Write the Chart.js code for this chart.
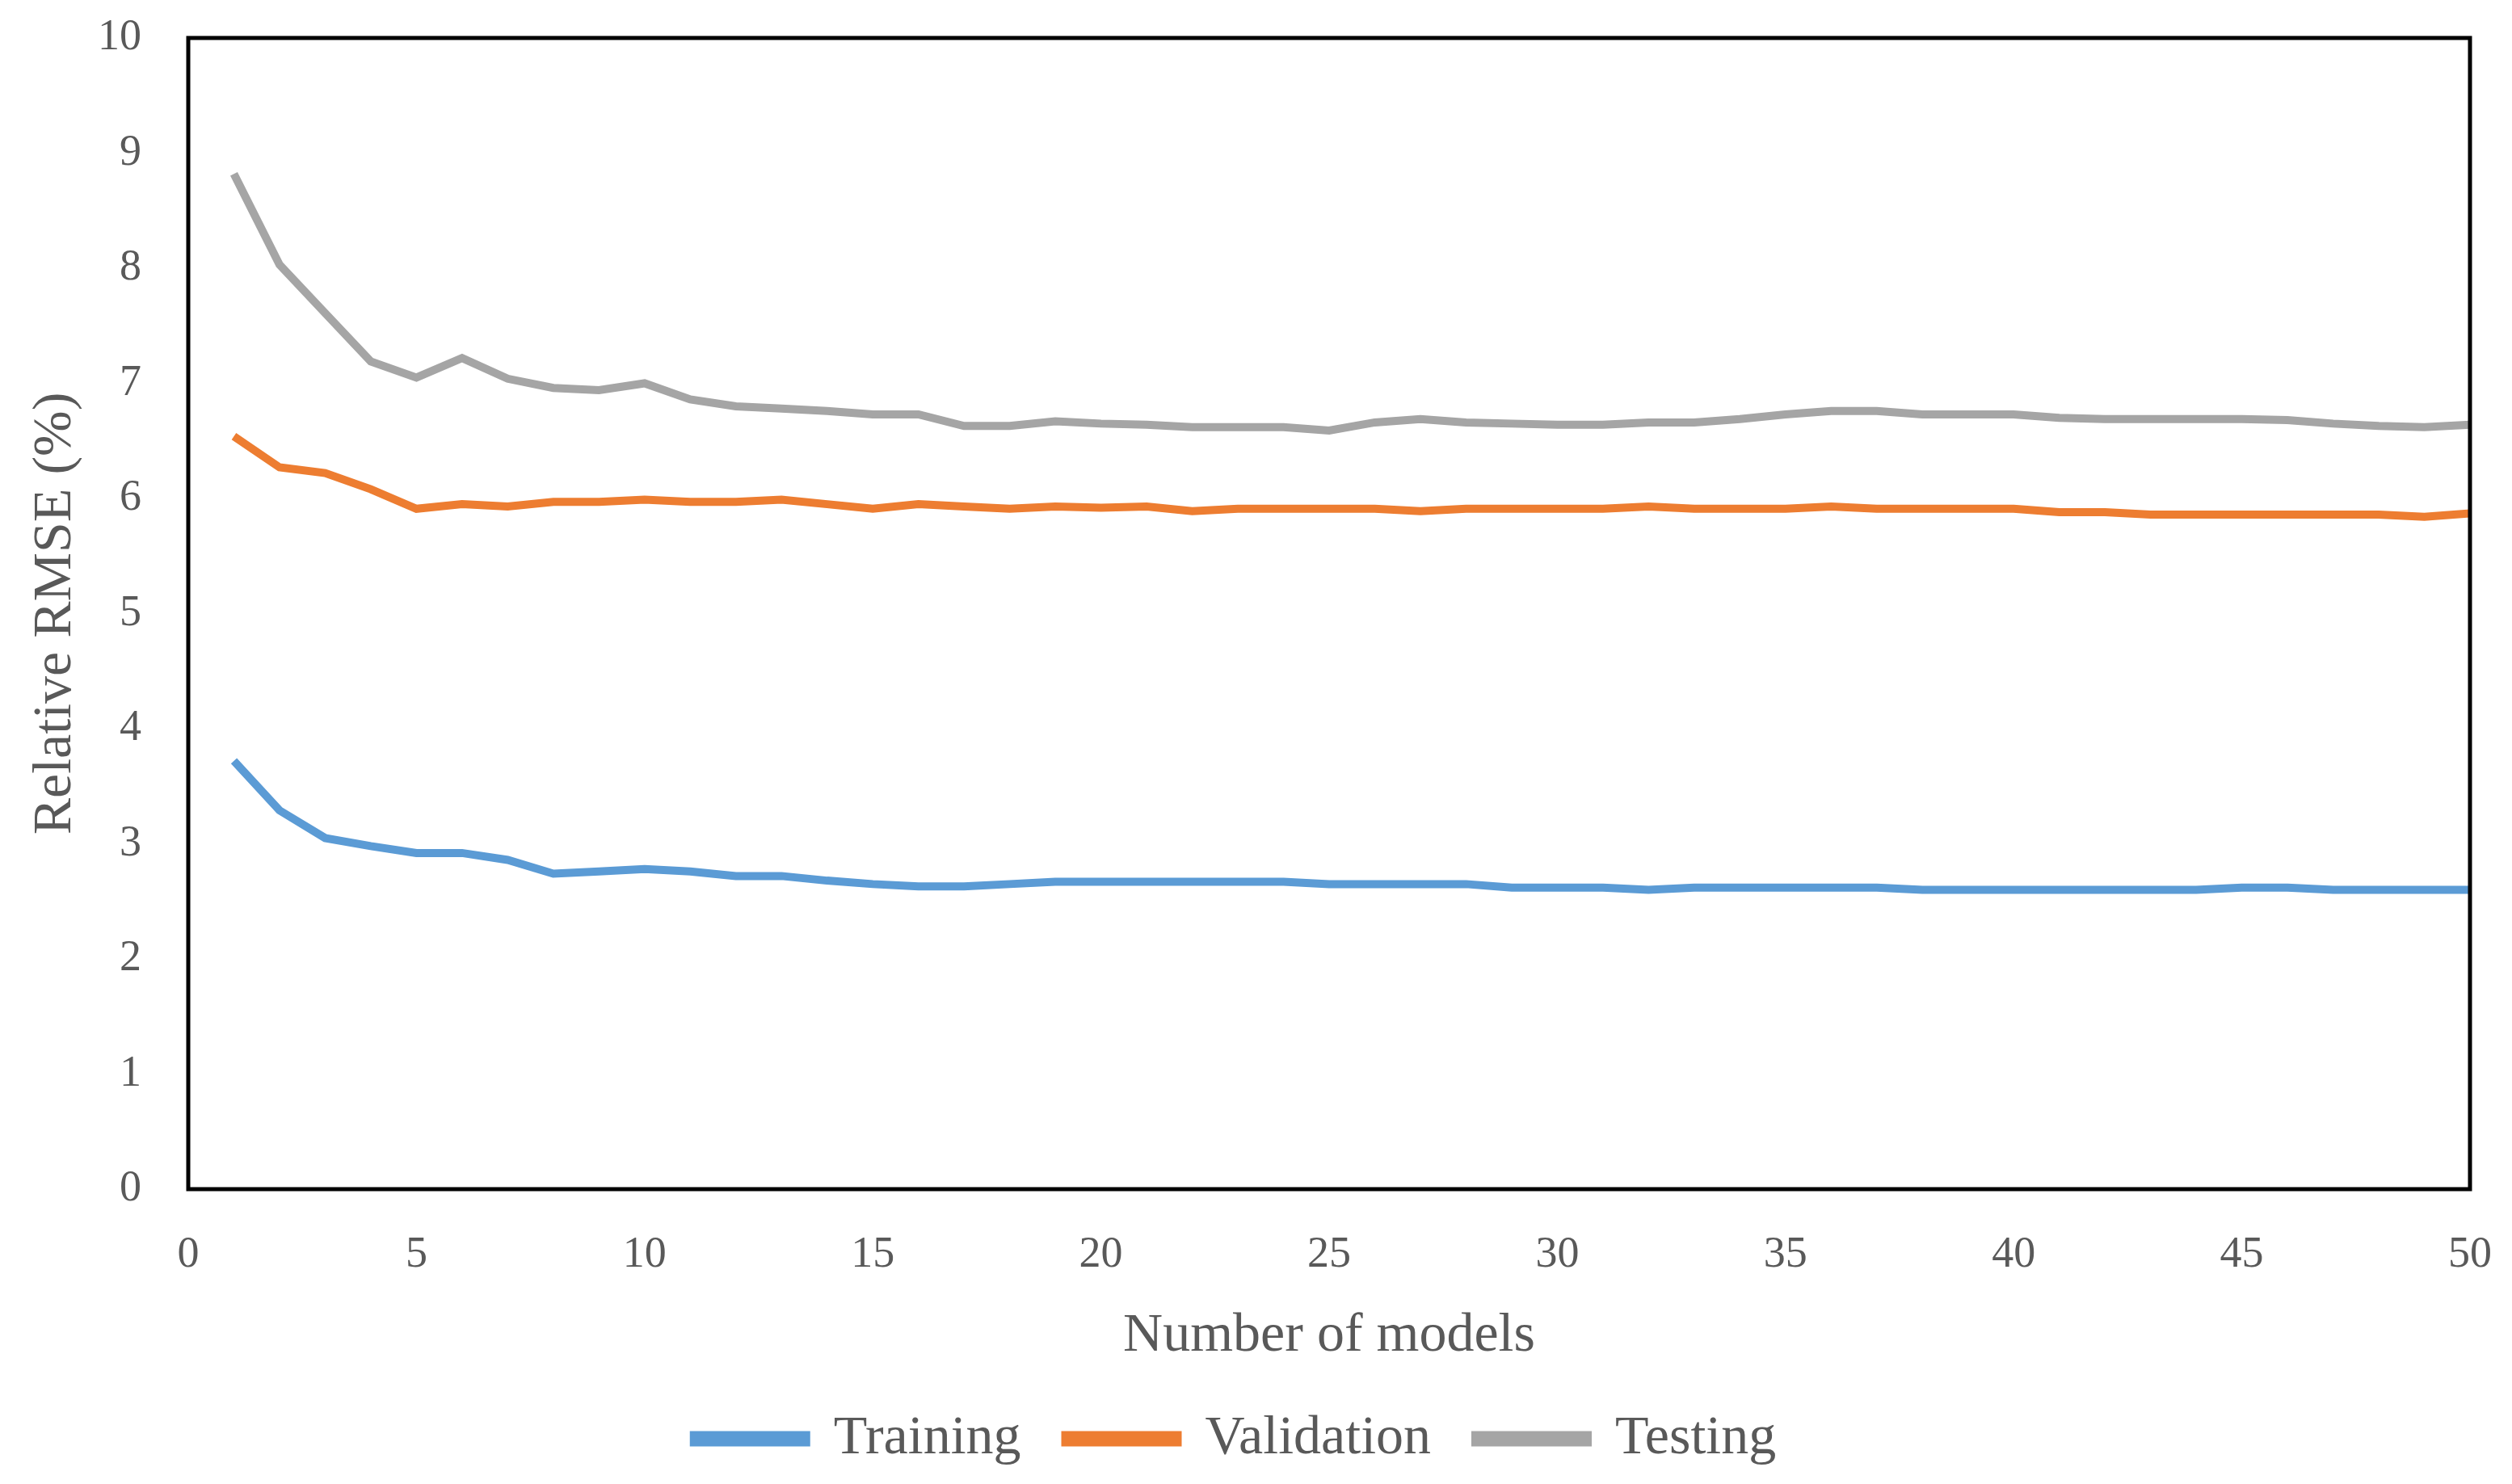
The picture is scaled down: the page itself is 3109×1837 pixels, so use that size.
<!DOCTYPE html>
<html>
<head>
<meta charset="utf-8">
<title>Relative RMSE</title>
<script src="https://cdn.jsdelivr.net/npm/chart.js@4/dist/chart.umd.min.js"></script>
<style>
  body { margin: 0; background: #ffffff; }
  #caixa { width: 3109px; height: 1837px; }
  canvas { display: block; }
</style>
</head>
<body>
<div id="caixa"><canvas id="myChart" width="3109" height="1837"></canvas></div>
<script>
// numero de modelos (eixo x)
var modelos = [1, 2, 3, 4, 5, 6, 7, 8, 9, 10, 11, 12, 13, 14, 15, 16, 17, 18, 19, 20,
  21, 22, 23, 24, 25, 26, 27, 28, 29, 30, 31, 32, 33, 34, 35, 36, 37, 38, 39, 40,
  41, 42, 43, 44, 45, 46, 47, 48, 49, 50]

var training = [3.72, 3.29, 3.05, 2.98, 2.92, 2.92, 2.86, 2.74, 2.76, 2.78,
  2.76, 2.72, 2.72, 2.68, 2.65, 2.63, 2.63, 2.65, 2.67, 2.67,
  2.67, 2.67, 2.67, 2.67, 2.65, 2.65, 2.65, 2.65, 2.62, 2.62,
  2.62, 2.60, 2.62, 2.62, 2.62, 2.62, 2.62, 2.60, 2.60, 2.60,
  2.60, 2.60, 2.60, 2.60, 2.62, 2.62, 2.60, 2.60, 2.60, 2.60]

var validation = [6.54, 6.27, 6.22, 6.08, 5.91, 5.95, 5.93, 5.97, 5.97, 5.99,
  5.97, 5.97, 5.99, 5.95, 5.91, 5.95, 5.93, 5.91, 5.93, 5.92,
  5.93, 5.89, 5.91, 5.91, 5.91, 5.91, 5.89, 5.91, 5.91, 5.91,
  5.91, 5.93, 5.91, 5.91, 5.91, 5.93, 5.91, 5.91, 5.91, 5.91,
  5.88, 5.88, 5.86, 5.86, 5.86, 5.86, 5.86, 5.86, 5.84, 5.87]

var testing = [8.82, 8.03, 7.61, 7.19, 7.05, 7.22, 7.04, 6.96, 6.94, 7.00,
  6.86, 6.80, 6.78, 6.76, 6.73, 6.73, 6.63, 6.63, 6.67, 6.65,
  6.64, 6.62, 6.62, 6.62, 6.59, 6.66, 6.69, 6.66, 6.65, 6.64,
  6.64, 6.66, 6.66, 6.69, 6.73, 6.76, 6.76, 6.73, 6.73, 6.73,
  6.70, 6.69, 6.69, 6.69, 6.69, 6.68, 6.65, 6.63, 6.62, 6.64]

var nomes = ['Training', 'Validation', 'Testing']
var cores = ['#5B9BD5', '#ED7D31', '#A5A5A5']

var corTexto = '#595959'
var fonte = 'Liberation Serif'

function pontos(valores) {
  var lista = []
  for (let i = 0; i < modelos.length; i++) {
    lista.push({ x: modelos[i], y: valores[i] })
  }
  return lista
}

function serie(i, valores) {
  return {
    label: nomes[i],
    data: pontos(valores),
    borderColor: cores[i],
    backgroundColor: cores[i],
    borderWidth: 10,
    pointRadius: 0,
    tension: 0,
    fill: false,
  }
}

// moldura preta em volta da area do grafico
const moldura = {
  id: 'moldura',
  afterDraw(chart) {
    const a = chart.chartArea
    const ctx = chart.ctx
    ctx.save()
    ctx.strokeStyle = '#000000'
    ctx.lineWidth = 5
    ctx.strokeRect(a.left, a.top, a.right - a.left, a.bottom - a.top)
    ctx.restore()
  }
}

let dados = {
  datasets: [
    serie(0, training),
    serie(1, validation),
    serie(2, testing)
  ]
}

const config = {
  type: 'line',
  data: dados,
  plugins: [moldura],
  options: {
    responsive: false,
    devicePixelRatio: 1,
    animation: false,
    layout: {
      padding: { left: 0, top: 47, right: 52, bottom: 12 }
    },
    plugins: {
      tooltip: { enabled: false },
      legend: {
        position: 'bottom',
        labels: {
          boxWidth: 139,
          boxHeight: 9,
          padding: 55,
          color: corTexto,
          font: { family: fonte, size: 68 }
        }
      }
    },
    scales: {
      x: {
        type: 'linear',
        min: 0,
        max: 50,
        grid: { display: false, drawTicks: false },
        border: { display: false },
        ticks: {
          stepSize: 5,
          padding: 49,
          color: corTexto,
          font: { family: fonte, size: 54 }
        },
        title: {
          display: true,
          text: 'Number of models',
          color: corTexto,
          padding: { top: 0, bottom: -3 },
          font: { family: fonte, size: 68 }
        },
        afterFit: function (escala) {
          escala.height = 220
          escala.paddingLeft = 0
          escala.paddingRight = 0
        }
      },
      y: {
        min: 0,
        max: 10,
        grid: { display: false, drawTicks: false },
        border: { display: false },
        ticks: {
          stepSize: 1,
          padding: 58,
          color: corTexto,
          font: { family: fonte, size: 54 }
        },
        title: {
          display: true,
          text: 'Relative RMSE (%)',
          color: corTexto,
          padding: { top: 28, bottom: 0 },
          font: { family: fonte, size: 68 }
        },
        afterFit: function (escala) {
          escala.width = 233
          escala.paddingTop = 0
          escala.paddingBottom = 0
        }
      }
    }
  }
}

var myChart = new Chart(document.getElementById('myChart'), config)
</script>
</body>
</html>
